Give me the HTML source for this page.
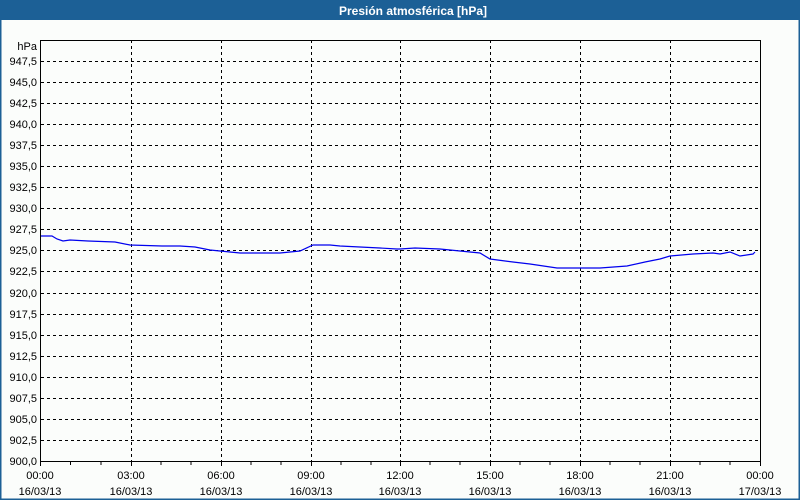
<!DOCTYPE html>
<html><head><meta charset="utf-8"><style>
html,body{margin:0;padding:0;background:#fbfdfb;}
svg{display:block;font-family:"Liberation Sans","DejaVu Sans",sans-serif;}
</style></head><body>
<svg width="800" height="500" viewBox="0 0 800 500" xmlns="http://www.w3.org/2000/svg">
<rect x="0" y="0" width="800" height="500" fill="#fbfdfb"/>
<rect x="0" y="0" width="800" height="20" fill="#1c6096"/>
<rect x="0" y="20" width="1.5" height="480" fill="#1c6096"/>
<rect x="798.5" y="20" width="1.5" height="480" fill="#1c6096"/>
<rect x="0" y="498.5" width="800" height="1.5" fill="#1c6096"/>
<text x="413" y="15" text-anchor="middle" font-size="12" font-weight="bold" fill="#ffffff">Presión atmosférica [hPa]</text>
<g stroke="#000" stroke-width="1" stroke-dasharray="3,3" fill="none">
<path d="M41 440.5H760M41 419.5H760M41 398.5H760M41 377.5H760M41 356.5H760M41 335.5H760M41 314.5H760M41 293.5H760M41 271.5H760M41 250.5H760M41 229.5H760M41 208.5H760M41 187.5H760M41 166.5H760M41 145.5H760M41 124.5H760M41 103.5H760M41 82.5H760M41 61.5H760"/>
<path d="M131.5 40V461M221.5 40V461M311.5 40V461M400.5 40V461M490.5 40V461M580.5 40V461M670.5 40V461"/>
</g>
<path d="M40.5 40.5H760.5V461M40.5 40V461.5H760.5" stroke="#000" stroke-width="1" fill="none"/>
<g stroke="#000" stroke-width="1">
<path d="M40.5 461V466M70.5 461V465M101 461V465M131.5 461V466M161 461V465M191 461V465M221.5 461V466M251 461V465M281 461V465M311.5 461V466M341 461V465M371 461V465M400.5 461V466M430 461V465M460 461V465M490.5 461V466M520 461V465M550 461V465M580.5 461V466M610 461V465M640 461V465M670.5 461V466M700 461V465M730 461V465M760.5 461V466"/>
</g>
<polyline fill="none" stroke="#0000ee" stroke-width="1.2" points="41,236 52,236 57,239 63,241 70,240 88,241 115,242 130,245 162,246 180,246 195,247 210,250 230,252 240,253 260,253 280,253 300,251 313,245 330,245 340,246 360,247 380,248 397,249 400,249 415,248 440,249 460,251 480,253 490,259 513,262 530,264 557,268 580,268 600,268 627,266 645,262 660,259 670,256 693,254 713,253 720,254 730,252 740,256 753,254 755,252"/>
<g font-size="11" fill="#000" text-anchor="end">
<text x="37" y="50">hPa</text>
<text x="37" y="65">947,5</text>
<text x="37" y="86">945,0</text>
<text x="37" y="107">942,5</text>
<text x="37" y="128">940,0</text>
<text x="37" y="149">937,5</text>
<text x="37" y="170">935,0</text>
<text x="37" y="191">932,5</text>
<text x="37" y="212">930,0</text>
<text x="37" y="233">927,5</text>
<text x="37" y="254">925,0</text>
<text x="37" y="275">922,5</text>
<text x="37" y="297">920,0</text>
<text x="37" y="318">917,5</text>
<text x="37" y="339">915,0</text>
<text x="37" y="360">912,5</text>
<text x="37" y="381">910,0</text>
<text x="37" y="402">907,5</text>
<text x="37" y="423">905,0</text>
<text x="37" y="444">902,5</text>
<text x="37" y="465">900,0</text>
</g>
<g font-size="11" fill="#000" text-anchor="middle">
<text x="40" y="479">00:00</text><text x="40" y="495">16/03/13</text>
<text x="131" y="479">03:00</text><text x="131" y="495">16/03/13</text>
<text x="221" y="479">06:00</text><text x="221" y="495">16/03/13</text>
<text x="311" y="479">09:00</text><text x="311" y="495">16/03/13</text>
<text x="400" y="479">12:00</text><text x="400" y="495">16/03/13</text>
<text x="490" y="479">15:00</text><text x="490" y="495">16/03/13</text>
<text x="580" y="479">18:00</text><text x="580" y="495">16/03/13</text>
<text x="670" y="479">21:00</text><text x="670" y="495">16/03/13</text>
<text x="760" y="479">00:00</text><text x="760" y="495">17/03/13</text>
</g>
</svg>
</body></html>
